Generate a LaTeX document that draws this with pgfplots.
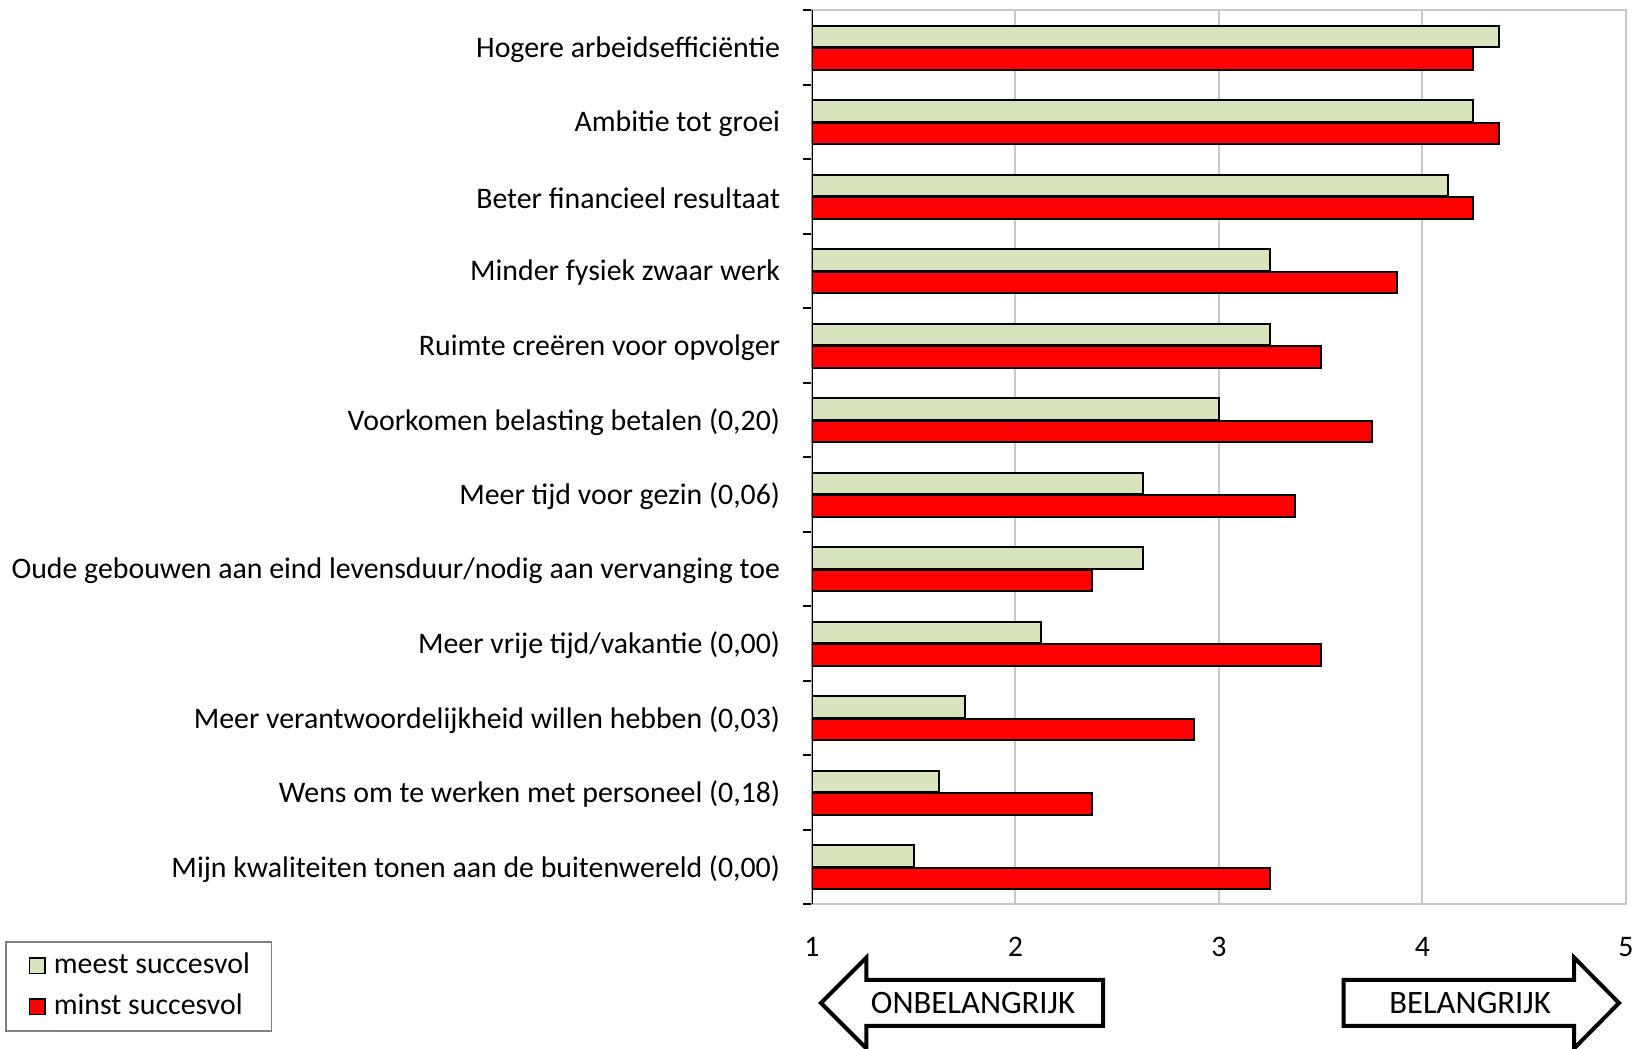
\documentclass[border=0pt]{standalone}
\usepackage{pgfplots}
\pgfplotsset{compat=1.18}
\usepackage{fontspec}
\setmainfont{Carlito}
\definecolor{lgreen}{HTML}{D7E4BD}
\definecolor{gridgray}{HTML}{C8C8C8}
\newcommand{\lblfont}{\fontsize{8.95}{10.5}\selectfont}
\begin{document}
\begin{tikzpicture}
\begin{axis}[
  scale only axis,
  width=244.2pt, height=268.2pt,
  xbar, bar width=0.29,
  xmin=1, xmax=5, ymin=0.5, ymax=12.5,
  y dir=reverse,
  xtick={1,2,3,4,5},
  major x tick style={draw=none},
  xmajorgrids, grid style={gridgray, line width=0.6pt},
  ytick={1,...,12},
  ytick pos=left,
  major y tick style={draw=none},
  minor ytick={0.5,1.5,...,12.5},
  minor y tick style={black, line width=0.6pt},
  minor tick length=2.6pt,
  tick align=outside,
  axis line style={gridgray, line width=0.6pt},
  yticklabels={Hogere arbeidsefficiëntie, Ambitie tot groei, Beter financieel resultaat,
    Minder fysiek zwaar werk, Ruimte creëren voor opvolger,
    {Voorkomen belasting betalen (0,20)}, {Meer tijd voor gezin (0,06)},
    Oude gebouwen aan eind levensduur/nodig aan vervanging toe,
    {Meer vrije tijd/vakantie (0,00)}, {Meer verantwoordelijkheid willen hebben (0,03)},
    {Wens om te werken met personeel (0,18)}, {Mijn kwaliteiten tonen aan de buitenwereld (0,00)}},
  yticklabel style={font=\lblfont, xshift=-1.8pt, yshift=-0.5pt},
  xticklabel style={font=\lblfont, yshift=-2pt},
  /pgf/number format/assume math mode=true,
  legend cell align=left,
  legend image code/.code={
    \path[draw=none, fill=none] (-1.5pt,0pt) -- (6.3pt,0pt);
    \draw[#1, draw=black, line width=0.5pt] (0pt,-2.3pt) rectangle (4.6pt,2.3pt);},
  legend style={at={(-0.991,-0.041)}, anchor=north west, draw=gray, line width=0.5pt,
    font=\lblfont, inner xsep=5.5pt, inner ysep=1.3pt, row sep=0.6pt,
    nodes={inner xsep=1pt}},
]
\addplot[fill=lgreen, draw=black, line width=0.6pt, bar shift=-0.15] coordinates {
  (4.375,1) (4.25,2) (4.125,3) (3.25,4) (3.25,5) (3.0,6)
  (2.625,7) (2.625,8) (2.125,9) (1.75,10) (1.625,11) (1.5,12)};
\addlegendentry{meest succesvol}
\addplot[fill=red, draw=black, line width=0.6pt, bar shift=0.15] coordinates {
  (4.25,1) (4.375,2) (4.25,3) (3.875,4) (3.5,5) (3.75,6)
  (3.375,7) (2.375,8) (3.5,9) (2.875,10) (2.375,11) (3.25,12)};
\addlegendentry{minst succesvol}
\draw[black, line width=0.7pt] (rel axis cs:0,0) -- (rel axis cs:0,1);
\end{axis}
% arrows below the axis
\draw[black, line width=1.2pt, fill=white]
  (2.7pt,-29.55pt) -- (16.35pt,-15.9pt) -- (16.35pt,-22.65pt) -- (87.3pt,-22.65pt)
  -- (87.3pt,-36.45pt) -- (16.35pt,-36.45pt) -- (16.35pt,-43.2pt) -- cycle;
\node[font=\fontsize{9.8}{11}\selectfont] at (48.3pt,-29.6pt) {ONBELANGRIJK};
\draw[black, line width=1.2pt, fill=white]
  (242.1pt,-29.55pt) -- (228.6pt,-15.9pt) -- (228.6pt,-22.65pt) -- (159.5pt,-22.65pt)
  -- (159.5pt,-36.45pt) -- (228.6pt,-36.45pt) -- (228.6pt,-43.2pt) -- cycle;
\node[font=\fontsize{9.8}{11}\selectfont] at (197.4pt,-29.6pt) {BELANGRIJK};
\pgfresetboundingbox
\path (-243.6pt,-43.35pt) rectangle (246.6pt,271.35pt);
\end{tikzpicture}
\end{document}
